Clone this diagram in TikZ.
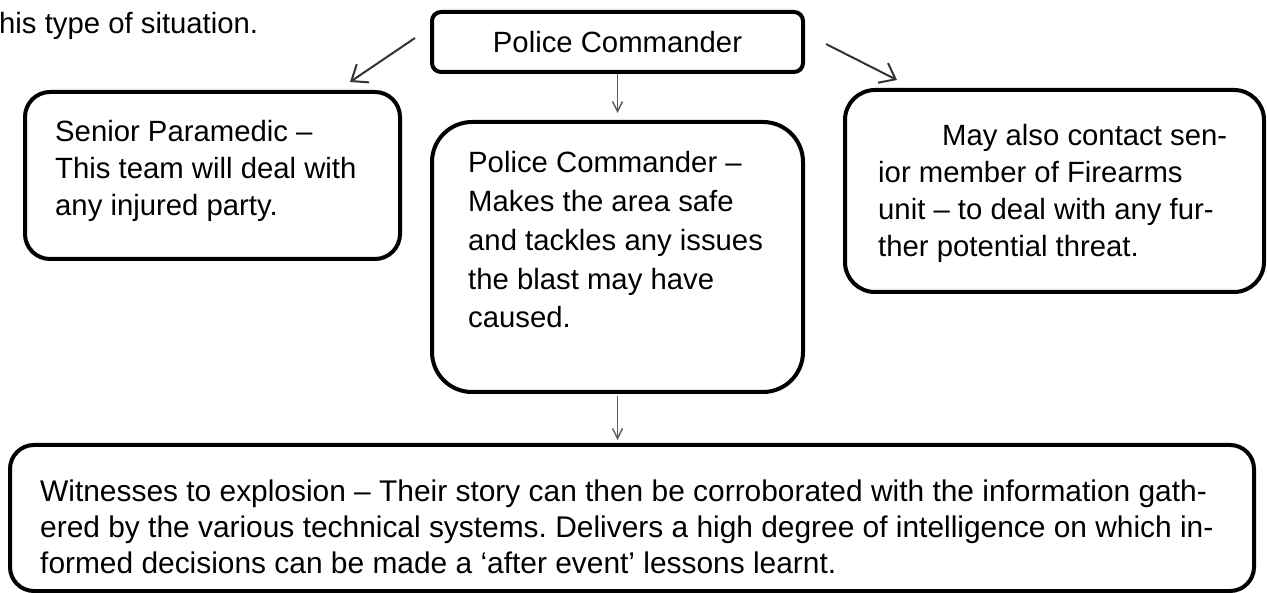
\documentclass[tikz,border=0pt]{standalone}
\usepackage{fontspec}
\setmainfont{Liberation Sans}
\usetikzlibrary{arrows.meta}
\frenchspacing
\begin{document}
\begin{tikzpicture}[x=1pt,y=-1pt,
  box/.style={draw=black, line width=4pt, inner sep=0pt},
  txt/.style={inner sep=0pt, anchor=base west},
  varr/.style={draw=black!65, line width=1.4pt, -{Straight Barb[length=10pt,width=10pt,line width=1.4pt]}},
  darr/.style={draw=black!80, line width=2pt, -{Straight Barb[length=14pt,width=22pt,line width=2pt]}}]
\useasboundingbox (0,0) rectangle (1267,593);
\newcommand{\bigfont}[1]{\fontsize{29.3}{#1}\selectfont}
% boxes
\node[box, rounded corners=9pt, minimum width=371pt, minimum height=60pt] (top) at (617.5,42) {};
\node[box, rounded corners=25pt, minimum width=375pt, minimum height=167pt] (left) at (212.5,175.5) {};
\node[box, rounded corners=40pt, minimum width=371pt, minimum height=270pt] (mid) at (617.5,257) {};
\node[box, rounded corners=30pt, minimum width=419pt, minimum height=202pt] (right) at (1054.5,191) {};
\node[box, rounded corners=24pt, minimum width=1244pt, minimum height=146pt] (bot) at (632,518) {};
% texts
\node[txt] (sit) at (-1,34) {\bigfont{35}his type of situation.};
\node[inner sep=0pt] (toptx) at (top.center) {\bigfont{35}Police Commander};
\node[txt] (lefttx) at (55,142) {\parbox[t]{340pt}{\raggedright\bigfont{37}Senior Paramedic –\\This team will deal with\\any injured party.}};
\node[txt] (midtx) at (468,173) {\parbox[t]{330pt}{\raggedright\bigfont{38.7}Police Commander –\\Makes the area safe\\and tackles any issues\\the blast may have\\caused.}};
\node[txt] (righttx) at (878,146) {\parbox[t]{380pt}{\raggedright\bigfont{36.7}\hspace*{64pt}May also contact sen-\\ior member of Firearms\\unit – to deal with any fur-\\ther potential threat.}};
\node[txt] (bottx) at (40,501) {\parbox[t]{1210pt}{\raggedright\fontsize{29.9}{36.5}\selectfont Witnesses to explosion – Their story can then be corroborated with the information gath-\\ered by the various technical systems. Delivers a high degree of intelligence on which in-\\formed decisions can be made a ‘after event’ lessons learnt.}};
% connectors
\draw[varr, shorten >=7pt] (top.south) -- (mid.north);
\draw[varr, shorten <=2pt, shorten >=3pt] (mid.south) -- (mid.south |- bot.north);
\coordinate (la) at (415,38);
\coordinate (lb) at (350,82);
\coordinate (ra) at (826,44);
\coordinate (rb) at (897,80);
\draw[darr] (la) -- (lb);
\draw[darr] (ra) -- (rb);
\end{tikzpicture}
\end{document}
